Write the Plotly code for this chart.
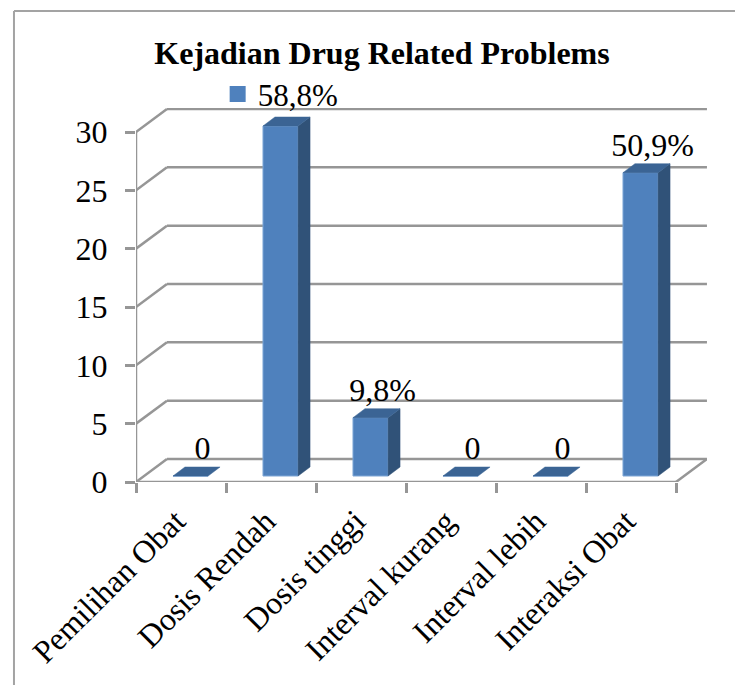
import plotly.graph_objects as go

# Chart content
title = "Kejadian Drug Related Problems"
categories = ["Pemilihan Obat", "Dosis Rendah", "Dosis tinggi",
              "Interval kurang", "Interval lebih", "Interaksi Obat"]
values = [0, 30, 5, 0, 0, 26]
value_labels = ["0", "", "9,8%", "0", "0", "50,9%"]
series_name = "58,8%"
value_ticks = [0, 5, 10, 15, 20, 25, 30]

# Oblique projection: how one step into the depth shifts x (categories) and y (values)
WALL_DX, WALL_DY = 0.344, 1.97
BAR_SHIFT_X, BAR_SHIFT_Y = 0.106, 0.514
BAR_WIDTH = 0.39
BAR_DX, BAR_DY = 0.133, 0.771

FRONT, TOP, SIDE, EDGE = "#4f81bd", "#3b6494", "#305278", "#7ea6d6"
GRID = "#969696"
FRAME = "#a3a3a3"
SERIF = "Liberation Serif"

n = len(categories)
centers = [i + 0.5 for i in range(n)]
bar_x = [c + BAR_SHIFT_X for c in centers]

fig = go.Figure()

# Front faces of the columns
fig.add_trace(go.Bar(
    x=bar_x, y=values, base=BAR_SHIFT_Y, width=BAR_WIDTH,
    marker=dict(color=FRONT, line=dict(color=EDGE, width=1)),
    showlegend=False, hoverinfo="skip",
))

# Top and side faces, built from the same values
top_x, top_y, side_x, side_y = [], [], [], []
half = BAR_WIDTH / 2
for x, v in zip(bar_x, values):
    h = v + BAR_SHIFT_Y
    top_x += [x - half, x + half, x + half + BAR_DX, x - half + BAR_DX, x - half, None]
    top_y += [h, h, h + BAR_DY, h + BAR_DY, h, None]
    if v > 0:
        side_x += [x + half, x + half + BAR_DX, x + half + BAR_DX, x + half, x + half, None]
        side_y += [BAR_SHIFT_Y, BAR_SHIFT_Y + BAR_DY, h + BAR_DY, h, BAR_SHIFT_Y, None]

for xs, ys, colour in ((side_x, side_y, SIDE), (top_x, top_y, TOP)):
    fig.add_trace(go.Scatter(
        x=xs, y=ys, mode="lines", fill="toself", fillcolor=colour,
        line=dict(color=colour, width=0.5), showlegend=False, hoverinfo="skip",
    ))

# Value labels sit above the back edge of each column's top face
fig.add_trace(go.Scatter(
    x=[x + BAR_DX for x in bar_x],
    y=[v + BAR_SHIFT_Y + BAR_DY for v in values],
    mode="text", text=value_labels, textposition="top center",
    textfont=dict(family=SERIF, size=32, color="black"),
    showlegend=False, hoverinfo="skip", cliponaxis=False,
))

# Front axis lines
fig.add_trace(go.Scatter(
    x=[0, 0, n], y=[value_ticks[-1], 0, 0], mode="lines",
    line=dict(color=GRID, width=2.5), cliponaxis=False,
    showlegend=False, hoverinfo="skip",
))

# Legend swatch for the single series
fig.add_trace(go.Scatter(
    x=[None], y=[None], mode="markers", name=series_name,
    marker=dict(symbol="square", size=16, color=FRONT),
))

# Back wall and floor: each gridline runs up the side, then along the back
shapes = []
for v in value_ticks:
    for x0, y0, x1, y1 in ((0, v, WALL_DX, v + WALL_DY),
                           (WALL_DX, v + WALL_DY, n + WALL_DX, v + WALL_DY)):
        shapes.append(dict(type="line", xref="x", yref="y", x0=x0, y0=y0, x1=x1, y1=y1,
                           layer="below", line=dict(color=GRID, width=2.5)))
shapes.append(dict(type="line", xref="x", yref="y", x0=n, y0=0, x1=n + WALL_DX, y1=WALL_DY,
                   layer="below", line=dict(color=GRID, width=2.5)))

# Outer frame: only the top and left edges are visible
frame_line = dict(color=FRAME, width=2)
frame_left, frame_top = -0.2137, 1.2594
shapes.append(dict(type="line", xref="paper", yref="paper", x0=frame_left, y0=frame_top, x1=1.05, y1=frame_top,
                   line=frame_line))
shapes.append(dict(type="line", xref="paper", yref="paper", x0=frame_left, y0=frame_top, x1=frame_left, y1=-0.6,
                   line=frame_line))

fig.update_layout(
    width=735, height=685,
    margin=dict(l=136, r=28, t=108, b=203, autoexpand=False),
    paper_bgcolor="white", plot_bgcolor="rgba(0,0,0,0)",
    shapes=shapes,
    title=dict(text=f"<b>{title}</b>", x=382 / 735, xanchor="center", y=1 - 53 / 685, yanchor="middle",
               font=dict(family=SERIF, size=32, color="black")),
    showlegend=True,
    legend=dict(x=0.143, y=1.0365, xanchor="left", yanchor="middle", bgcolor="rgba(0,0,0,0)",
                font=dict(family=SERIF, size=31, color="black"), itemwidth=30),
    xaxis=dict(
        range=[0, 571 / 90], showgrid=False, zeroline=False, showline=False,
        tickmode="array", tickvals=[c - 0.055 for c in centers], ticktext=categories,
        ticks="", tickangle=-45, ticklabelstandoff=13,
        tickfont=dict(family=SERIF, size=32, color="black"),
        minor=dict(tickmode="array", tickvals=list(range(n + 1)), ticks="outside",
                   ticklen=10, tickwidth=2.5, tickcolor=GRID, showgrid=False),
    ),
    yaxis=dict(
        range=[0, 374 / (350 / 30)], showgrid=False, zeroline=False, showline=False,
        tickmode="array", tickvals=value_ticks, ticks="outside", ticklen=10, tickwidth=2.5,
        tickcolor=GRID, ticklabelstandoff=11, tickfont=dict(family=SERIF, size=32, color="black"),
    ),
)

fig.write_html("out.html")
